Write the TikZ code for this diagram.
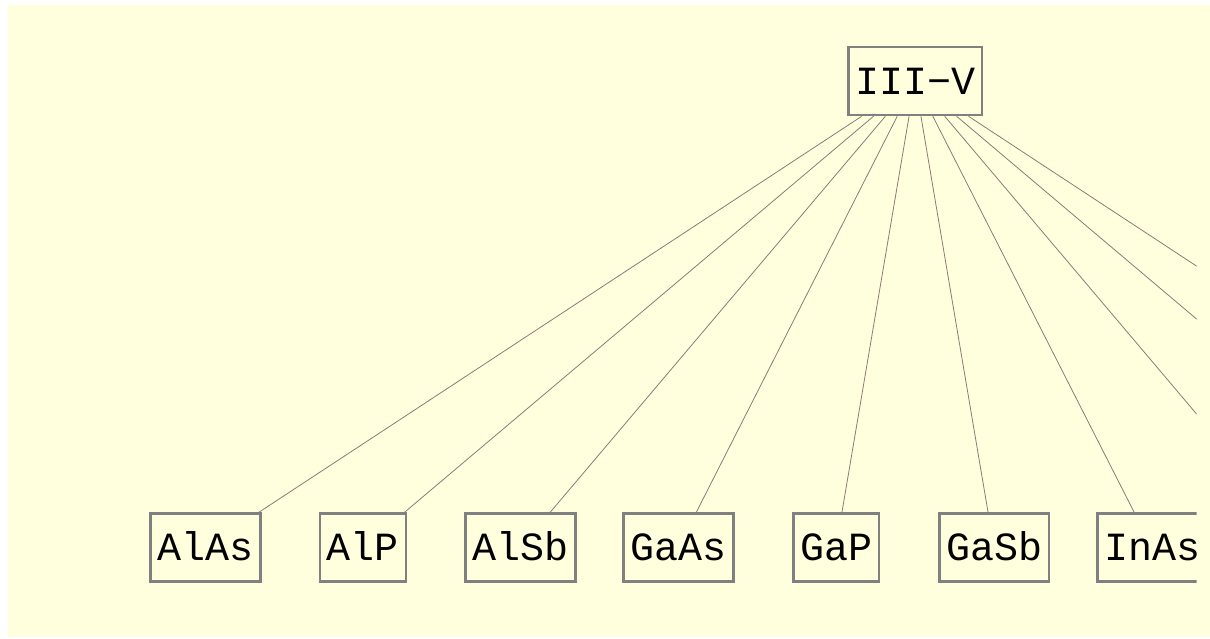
\documentclass[tikz,border=0pt]{standalone}
\usepackage{fontspec}
\setmonofont{Liberation Mono}
\definecolor{bg}{RGB}{255,255,221}
\definecolor{boxline}{RGB}{128,128,128}
\definecolor{edgecol}{RGB}{140,122,122}
\begin{document}
\begin{tikzpicture}[x=1pt,y=-1pt,
  box/.style={draw=boxline, line width=2.5pt, fill=bg,
    font=\ttfamily\fontsize{40}{48}\selectfont,
    inner xsep=6.75pt, inner ysep=0pt, minimum height=68pt,
    text height=26.6pt, text depth=0pt},
  link/.style={draw=edgecol, line width=0.8pt}]
\useasboundingbox (0,0) rectangle (1210,638);
\fill[bg] (8,5) rectangle (1210,637);
\begin{scope}
\clip (8,5) rectangle (1196.5,637);
\node[box] (top) at (915,81) {III−V};
\node[box] (alas) at (205.5,547.5) {AlAs};
\node[box] (alp)  at (363,547.5) {AlP};
\node[box] (alsb) at (520.5,547.5) {AlSb};
\node[box] (gaas) at (678.5,547.5) {GaAs};
\node[box] (gap)  at (836,547.5) {GaP};
\node[box] (gasb) at (994,547.5) {GaSb};
\node[box] (inas) at (1152,547.5) {InAs};
\coordinate (c8)  at (1309.5,547.5);
\coordinate (c9)  at (1467,547.5);
\coordinate (c10) at (1625,547.5);
\foreach \n in {alas,alp,alsb,gaas,gap,gasb,inas,c8,c9,c10}
  \draw[link] (top) -- (\n);
\end{scope}
\end{tikzpicture}
\end{document}
